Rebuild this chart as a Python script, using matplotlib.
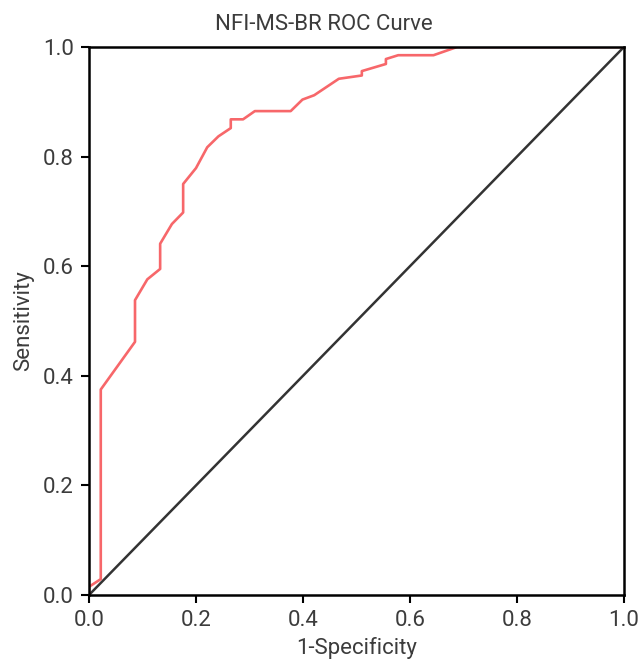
import numpy as np
import matplotlib.pyplot as plt

plt.rcParams['font.family'] = ['Roboto', 'DejaVu Sans']

# ROC points
fpr = [0.0, 0.0, 0.022, 0.022, 0.086, 0.086, 0.109, 0.133, 0.133, 0.155,
       0.176, 0.176, 0.200, 0.221, 0.242, 0.265, 0.265, 0.288, 0.310, 0.377,
       0.399, 0.421, 0.467, 0.510, 0.510, 0.555, 0.555, 0.578, 0.644, 0.688, 1.0]
tpr = [0.0, 0.015, 0.029, 0.375, 0.462, 0.538, 0.576, 0.595, 0.641, 0.677,
       0.698, 0.750, 0.779, 0.817, 0.837, 0.852, 0.868, 0.868, 0.883, 0.883,
       0.904, 0.912, 0.942, 0.948, 0.956, 0.969, 0.978, 0.985, 0.985, 1.0, 1.0]
diag = [0.0, 1.0]
ticks = [0.0, 0.2, 0.4, 0.6, 0.8, 1.0]

txt = '#3c3c3c'

fig = plt.figure(figsize=(6.38, 6.59), dpi=100)
ax = fig.add_axes([0.1395, 0.0971, 0.8385, 0.8316])

ax.plot(diag, diag, color='#333333', linewidth=1.8)
ax.plot(fpr, tpr, color='#f7676a', linewidth=1.9)

ax.set_xlim(0, 1)
ax.set_ylim(0, 1)
ax.set_xticks(ticks)
ax.set_yticks(ticks)
ax.set_xticklabels(['%.1f' % t for t in ticks])
ax.set_yticklabels(['%.1f' % t for t in ticks])
for s in ax.spines.values():
    s.set_linewidth(1.8)
ax.tick_params(direction='out', length=6, width=1.5, labelsize=16, pad=5,
               labelcolor=txt)

fig.text(0.508, 1 - 29.5 / 659, 'NFI-MS-BR ROC Curve', fontsize=16,
         color=txt, ha='center', va='baseline')
ax.set_xlabel('1-Specificity', fontsize=16, color=txt, labelpad=4)
ax.set_ylabel('Sensitivity', fontsize=16, color=txt, labelpad=6)

fig.savefig('out.png', dpi=100)
